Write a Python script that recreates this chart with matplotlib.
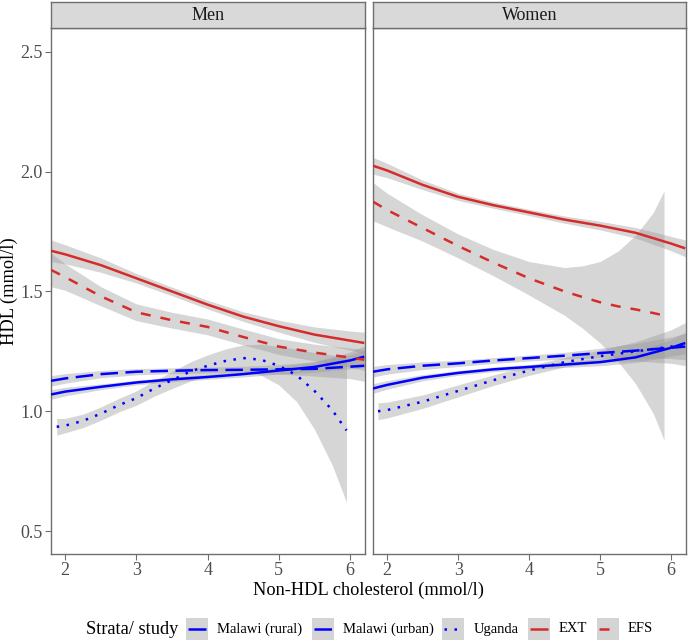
import matplotlib
matplotlib.use("Agg")
import matplotlib.pyplot as plt
from matplotlib.patches import Rectangle
from matplotlib.lines import Line2D
import numpy as np

plt.rcParams['font.family'] = ['Liberation Serif', 'DejaVu Serif']

# ---------------- data ----------------
series_names = ["Malawi (rural)", "Malawi (urban)", "Uganda", "EXT", "EFS"]
panels = ["Men", "Women"]
x_ticks = [2, 3, 4, 5, 6]
y_ticks = [0.5, 1.0, 1.5, 2.0, 2.5]
y_tick_labels = ["0.5", "1.0", "1.5", "2.0", "2.5"]

x_std = [1.8, 2.0, 2.5, 3.0, 3.5, 4.0, 4.5, 5.0, 5.5, 6.0, 6.2]

# Men
men_rural_x = x_std
men_rural_y = [1.07, 1.082, 1.102, 1.12, 1.133, 1.143, 1.155, 1.17, 1.185, 1.212, 1.228]
men_rural_se = [0.02, 0.018, 0.012, 0.01, 0.01, 0.01, 0.012, 0.015, 0.022, 0.035, 0.045]

men_urban_x = x_std
men_urban_y = [1.127, 1.137, 1.155, 1.165, 1.169, 1.172, 1.173, 1.175, 1.177, 1.186, 1.19]
men_urban_se = [0.022, 0.02, 0.015, 0.013, 0.012, 0.012, 0.015, 0.02, 0.03, 0.05, 0.065]

men_uganda_x = [1.88, 2.0, 2.25, 2.5, 2.75, 3.0, 3.25, 3.5, 3.75, 4.0, 4.25, 4.5, 4.75, 5.0, 5.25, 5.5, 5.75, 5.95]
men_uganda_y = [0.935, 0.94, 0.96, 0.99, 1.025, 1.055, 1.095, 1.13, 1.165, 1.19, 1.21, 1.222, 1.215, 1.19, 1.15, 1.085, 1.005, 0.92]
men_uganda_se = [0.035, 0.03, 0.028, 0.028, 0.028, 0.03, 0.032, 0.035, 0.04, 0.045, 0.05, 0.055, 0.065, 0.08, 0.11, 0.16, 0.23, 0.30]

men_ext_x = x_std
men_ext_y = [1.67, 1.655, 1.61, 1.555, 1.50, 1.445, 1.395, 1.355, 1.32, 1.295, 1.285]
men_ext_se = [0.045, 0.04, 0.03, 0.02, 0.018, 0.018, 0.02, 0.025, 0.032, 0.04, 0.045]

men_efs_x = x_std
men_efs_y = [1.59, 1.56, 1.48, 1.413, 1.38, 1.352, 1.31, 1.27, 1.245, 1.224, 1.215]
men_efs_se = [0.07, 0.055, 0.04, 0.035, 0.033, 0.033, 0.033, 0.033, 0.035, 0.04, 0.045]

# Women
women_rural_x = x_std
women_rural_y = [1.095, 1.11, 1.14, 1.16, 1.175, 1.185, 1.195, 1.205, 1.225, 1.265, 1.285]
women_rural_se = [0.02, 0.018, 0.013, 0.01, 0.01, 0.01, 0.012, 0.015, 0.022, 0.035, 0.045]

women_urban_x = x_std
women_urban_y = [1.165, 1.175, 1.19, 1.20, 1.212, 1.222, 1.232, 1.243, 1.253, 1.265, 1.27]
women_urban_se = [0.022, 0.02, 0.016, 0.013, 0.012, 0.012, 0.014, 0.02, 0.03, 0.045, 0.055]

women_uganda_x = [1.87, 2.0, 2.5, 3.0, 3.5, 4.0, 4.5, 5.0, 5.5, 6.0, 6.2]
women_uganda_y = [1.00, 1.005, 1.04, 1.085, 1.13, 1.17, 1.205, 1.23, 1.25, 1.27, 1.28]
women_uganda_se = [0.035, 0.033, 0.028, 0.025, 0.022, 0.02, 0.02, 0.025, 0.04, 0.07, 0.09]

women_ext_x = x_std
women_ext_y = [2.025, 2.005, 1.945, 1.895, 1.86, 1.83, 1.80, 1.775, 1.745, 1.70, 1.68]
women_ext_se = [0.035, 0.03, 0.02, 0.015, 0.013, 0.013, 0.015, 0.018, 0.022, 0.03, 0.035]

women_efs_x = [1.8, 2.0, 2.5, 3.0, 3.5, 4.0, 4.5, 4.75, 5.0, 5.25, 5.5, 5.75, 5.9]
women_efs_y = [1.875, 1.84, 1.765, 1.69, 1.62, 1.555, 1.50, 1.477, 1.455, 1.438, 1.425, 1.41, 1.40]
women_efs_se = [0.08, 0.07, 0.055, 0.05, 0.055, 0.07, 0.10, 0.13, 0.17, 0.23, 0.31, 0.42, 0.52]

data = {
    "Men": [
        (men_rural_x, men_rural_y, men_rural_se),
        (men_urban_x, men_urban_y, men_urban_se),
        (men_uganda_x, men_uganda_y, men_uganda_se),
        (men_ext_x, men_ext_y, men_ext_se),
        (men_efs_x, men_efs_y, men_efs_se),
    ],
    "Women": [
        (women_rural_x, women_rural_y, women_rural_se),
        (women_urban_x, women_urban_y, women_urban_se),
        (women_uganda_x, women_uganda_y, women_uganda_se),
        (women_ext_x, women_ext_y, women_ext_se),
        (women_efs_x, women_efs_y, women_efs_se),
    ],
}

# ---------------- style ----------------
BLUE = "#0000FF"
RED = "#D62B2B"
colors = [BLUE, BLUE, BLUE, RED, RED]
LW = 1.8
styles = [(0, ()), (0, (7, 3)), (0, (1, 3)), (0, ()), (0, (4, 4))]
RIB = "#999999"
RIB_A = 0.4
BORDER = "#6E6E6E"
TICKC = "#4D4D4D"

W, H = 688, 643
fig = plt.figure(figsize=(W / 100, H / 100), dpi=100)

def fx(px):
    return px / W

def fy(py):
    return 1 - py / H

panel_px = {"Men": (51, 365), "Women": (373, 686)}
top_px, bot_px = 28, 554
strip_top = 2

for pi, name in enumerate(panels):
    l, r = panel_px[name]
    ax = fig.add_axes([fx(l), fy(bot_px), fx(r - l), (bot_px - top_px) / H])
    for (xs, ys, se), c, ls in zip(data[name], colors, styles):
        xs = np.array(xs); ys = np.array(ys); se = np.array(se)
        ax.fill_between(xs, ys - se, ys + se, color=RIB, alpha=RIB_A, lw=0, zorder=2)
        ax.plot(xs, ys, color=c, lw=LW, linestyle=ls, zorder=3)
    ax.set_xlim(1.8, 6.21)
    ax.set_ylim(0.404, 2.6)
    ax.set_xticks(x_ticks)
    ax.set_xticklabels([str(t) for t in x_ticks])
    ax.set_yticks(y_ticks)
    if pi == 0:
        ax.set_yticklabels(y_tick_labels)
        ax.tick_params(axis='y', length=4, width=0.8, color=BORDER,
                       labelcolor=TICKC, labelsize=13, pad=2)
    else:
        ax.tick_params(axis='y', length=0, labelleft=False)
    ax.tick_params(axis='x', length=4, width=0.8, color=BORDER,
                   labelcolor=TICKC, labelsize=13, pad=2)
    for s in ax.spines.values():
        s.set_color(BORDER)
        s.set_linewidth(1.0)
    # strip
    sax = fig.add_axes([fx(l), fy(top_px), fx(r - l), (top_px - strip_top) / H])
    sax.set_facecolor("#D9D9D9")
    sax.set_xticks([]); sax.set_yticks([])
    for s in sax.spines.values():
        s.set_color(BORDER)
        s.set_linewidth(1.0)
    sax.text(0.5, 0.5, name, ha='center', va='center', fontsize=13,
             color="#1A1A1A", transform=sax.transAxes)

fig.text(fx(368), fy(590), "Non-HDL cholesterol (mmol/l)", ha='center', va='center',
         fontsize=13.2, color="black")
fig.text(fx(9), fy(291), "HDL (mmol/l)", ha='center', va='center',
         fontsize=13.2, color="black", rotation=90)

# ---------------- legend (manual layout) ----------------
LEG_Y = 629
fig.text(fx(86), fy(LEG_Y), "Strata/ study", ha='left', va='center',
         fontsize=13.2, color="black")
key_left = [186, 312, 442, 528, 597]
text_left = [217, 343, 474, 559, 628]
KEY_W, KEY_H = 22, 22
for kl, tl, c, ls, lab in zip(key_left, text_left, colors, styles, series_names):
    fig.add_artist(Rectangle((fx(kl), fy(LEG_Y + KEY_H / 2)), KEY_W / W, KEY_H / H,
                             transform=fig.transFigure, facecolor="#D4D4D4",
                             edgecolor='none'))
    fig.add_artist(Line2D([fx(kl + 2), fx(kl + KEY_W - 2)], [fy(LEG_Y), fy(LEG_Y)],
                          transform=fig.transFigure, color=c, lw=LW, linestyle=ls))
    fig.text(fx(tl), fy(LEG_Y), lab, ha='left', va='center', fontsize=10.5,
             color="black")

fig.savefig("out.png", dpi=100)
